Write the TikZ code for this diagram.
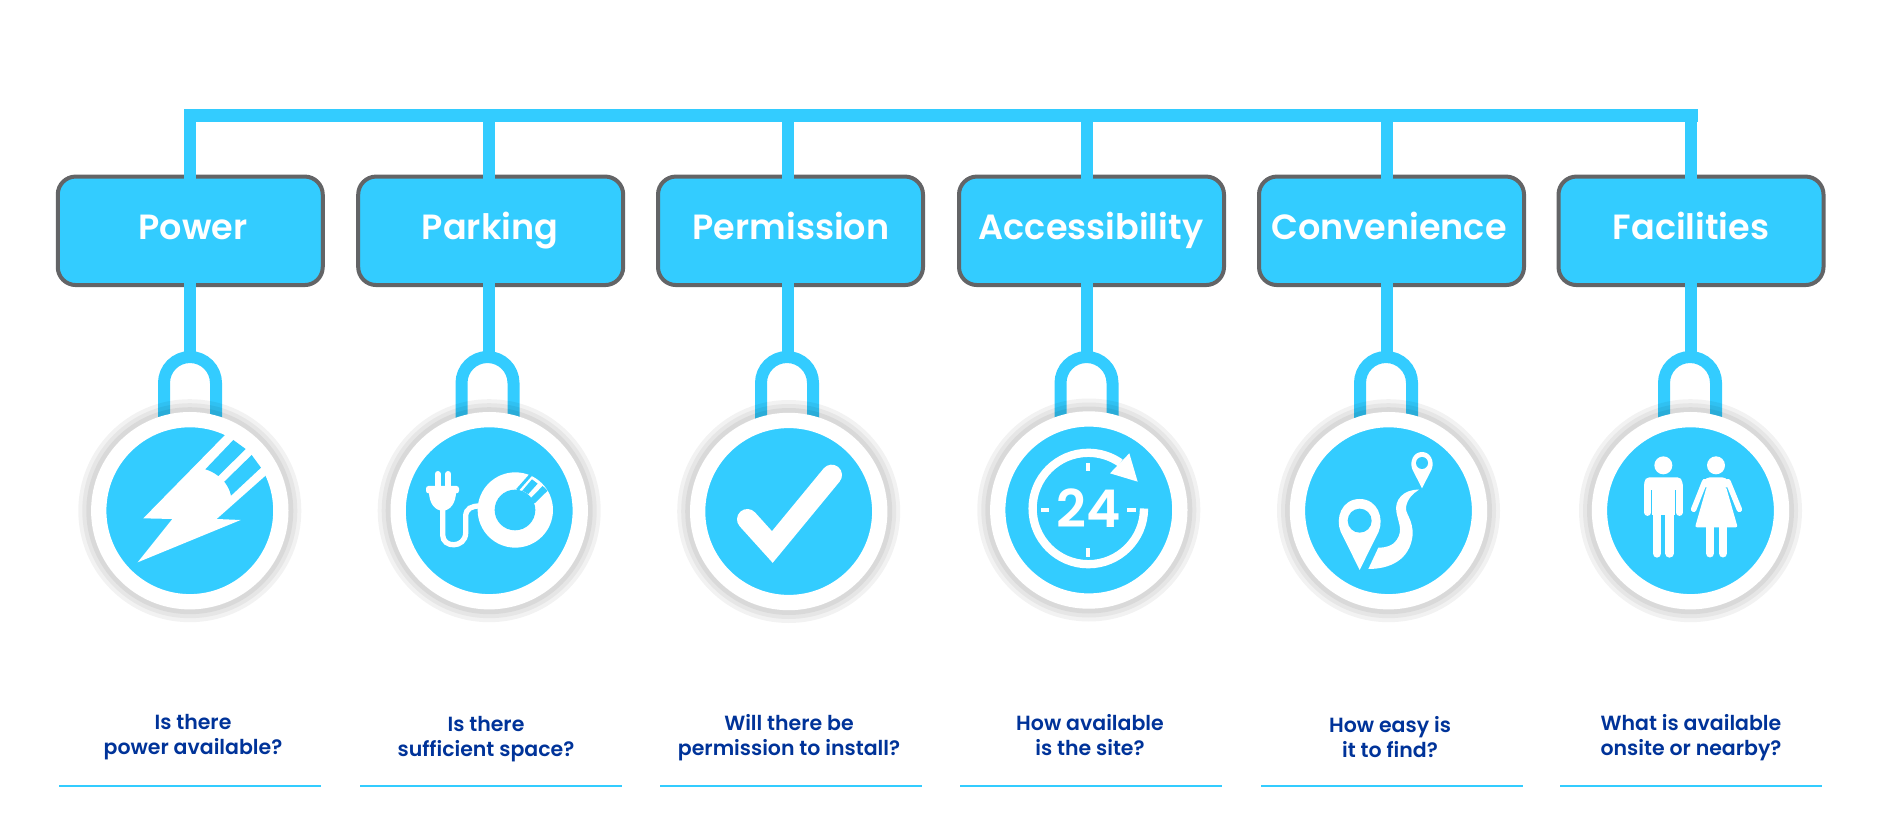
\documentclass[tikz,border=0pt]{standalone}
\usepackage{fontspec}
\setmainfont{Poppins}[BoldFont={Poppins SemiBold}]
\usepackage{xcolor}
\definecolor{skyfill}{HTML}{33CCFF}
\definecolor{boxedge}{HTML}{636466}
\definecolor{navytext}{HTML}{003399}
\tikzset{
    capbox/.style={rectangle, draw=boxedge, fill=skyfill, line width=4pt, rounded corners=18pt, minimum width=265pt, minimum height=108.5pt, inner sep=0pt, outer sep=0pt},
    boxlabel/.style={anchor=base, text=white, inner sep=0pt, font=\fontsize{35}{38}\selectfont\bfseries},
    question/.style={align=center, text=navytext, inner sep=0pt, font=\fontsize{20.5}{25}\selectfont\bfseries},
    rulebar/.style={rectangle, fill=skyfill, minimum width=262pt, minimum height=2pt, inner sep=0pt, outer sep=0pt},
    bus/.style={draw=skyfill, line width=13pt, line cap=rect},
    stem/.style={draw=skyfill, line width=12.3pt},
    shackle/.style={draw=skyfill, line width=12pt},
    haloA/.style={circle, fill=black, fill opacity=.05, minimum size=223pt, inner sep=0pt, outer sep=0pt},
    haloB/.style={circle, fill=black, fill opacity=.05, minimum size=215pt, inner sep=0pt, outer sep=0pt},
    haloC/.style={circle, fill=black, fill opacity=.055, minimum size=207pt, inner sep=0pt, outer sep=0pt},
    disc/.style={circle, draw=white, fill=skyfill, line width=15.3pt, minimum size=182.1pt, inner sep=0pt, outer sep=0pt},
    iconpx/.style={x=0.3333pt, y=-0.3333pt},
    hours/.style={text=white, inner sep=0pt, font=\fontsize{52}{54}\selectfont\bfseries},
}
% #1 = column name, #2 = x of the shackle, #3 = centre of the disc
\newcommand{\pendant}[3]{
    \coordinate (loop#1) at (#2,464);
    \draw[shackle] (loop#1) ++(-26,-69) -- ++(0,37) arc (180:0:26) -- ++(0,-37);
    \node[haloA] (haloA#1) at (#3) {};
    \node[haloB] (haloB#1) at (#3) {};
    \node[haloC] (haloC#1) at (#3) {};
    \node[disc] (disc#1) at (#3) {};
}
\begin{document}
\begin{tikzpicture}[x=1pt, y=1pt]
    \useasboundingbox (0,0) rectangle (1894,815);
    \coordinate (busPower) at (190,699.5);
    \coordinate (busParking) at (489,699.5);
    \coordinate (busPermission) at (788,699.5);
    \coordinate (busAccess) at (1087,699.5);
    \coordinate (busConvenience) at (1387,699.5);
    \coordinate (busFacilities) at (1691,699.5);
    \draw[bus] (busPower) -- (busFacilities);

    % boxes
    \node[capbox] (boxPower) at (190.25,584.2) {};
    \node[capbox] (boxParking) at (490.7,584.2) {};
    \node[capbox] (boxPermission) at (790.5,584.2) {};
    \node[capbox] (boxAccess) at (1091.5,584.2) {};
    \node[capbox] (boxConvenience) at (1391.5,584.2) {};
    \node[capbox] (boxFacilities) at (1691,584.2) {};
    \node[boxlabel] (labelPower) at (193,575.4) {Power};
    \node[boxlabel] (labelParking) at (490,575.4) {Parking};
    \node[boxlabel] (labelPermission) at (791,575.4) {Permission};
    \node[boxlabel] (labelAccess) at (1091,575.4) {Accessibility};
    \node[boxlabel] (labelConvenience) at (1389,575.4) {Convenience};
    \node[boxlabel] (labelFacilities) at (1691,575.4) {Facilities};

    \draw[stem, shorten >=-4pt] (busPower) -- (busPower |- boxPower.north);
    \draw[stem, shorten >=-4pt] (busParking) -- (busParking |- boxParking.north);
    \draw[stem, shorten >=-4pt] (busPermission) -- (busPermission |- boxPermission.north);
    \draw[stem, shorten >=-4pt] (busAccess) -- (busAccess |- boxAccess.north);
    \draw[stem, shorten >=-4pt] (busConvenience) -- (busConvenience |- boxConvenience.north);
    \draw[stem, shorten >=-4pt] (busFacilities) -- (busFacilities |- boxFacilities.north);

    % pendants
    \pendant{Power}{190}{189.8,304.3}
    \pendant{Parking}{487.5}{489.2,304.3}
    \pendant{Permission}{787}{788.7,303.5}
    \pendant{Access}{1086.5}{1088.8,305}
    \pendant{Convenience}{1386}{1388.5,304.3}
    \pendant{Facilities}{1690}{1690.5,304.3}

    \draw[stem, shorten <=-4pt, shorten >=-3pt] (busPower |- boxPower.south) -- (busPower |- loopPower);
    \draw[stem, shorten <=-4pt, shorten >=-3pt] (busParking |- boxParking.south) -- (busParking |- loopParking);
    \draw[stem, shorten <=-4pt, shorten >=-3pt] (busPermission |- boxPermission.south) -- (busPermission |- loopPermission);
    \draw[stem, shorten <=-4pt, shorten >=-3pt] (busAccess |- boxAccess.south) -- (busAccess |- loopAccess);
    \draw[stem, shorten <=-4pt, shorten >=-3pt] (busConvenience |- boxConvenience.south) -- (busConvenience |- loopConvenience);
    \draw[stem, shorten <=-4pt, shorten >=-3pt] (busFacilities |- boxFacilities.south) -- (busFacilities |- loopFacilities);

    % power icon
    \begin{scope}[shift={(100,395)}, iconpx]
        \fill[white] (130,295) -- (385,35) -- (460,70) -- (510,155) -- (350,297) -- (422,300) -- (113,427) -- (217,297) -- cycle;
        \fill[skyfill] (400,60) -- (437,87) -- (355,168) .. controls (342,158) and (330,152) .. (316,148) -- cycle;
        \fill[skyfill] (455,105) -- (483,143) -- (393,227) .. controls (390,210) and (382,197) .. (373,185) -- cycle;
    \end{scope}

    % parking icon
    \begin{scope}[shift={(400,395)}, iconpx]
        \fill[white] (346,270) circle (113);
        \fill[skyfill] (345,270) circle (61);
        \draw[skyfill, line width=3pt] (352,210) -- (392,165);
        \fill[skyfill] (396,178) -- (413,191) -- (385,222) -- (367,212) -- cycle;
        \fill[skyfill] (428,198) -- (443,212) -- (404,250) -- (392,235) -- cycle;
        \draw[white, line width=6pt, line cap=round] (113,162) -- (113,205);
        \draw[white, line width=6pt, line cap=round] (145,162) -- (145,205);
        \fill[white, rounded corners=2.5pt] (78,198) -- (177,198) -- (177,220) -- (78,220) -- cycle;
        \fill[white] (87,215) -- (168,215) .. controls (168,250) and (150,272) .. (128,272) .. controls (105,272) and (87,250) .. (87,215) -- cycle;
        \draw[white, line width=5.3pt] (128,265) -- (128,345) .. controls (128,385) and (195,385) .. (197,340) -- (197,290) .. controls (197,265) and (215,258) .. (240,258);
    \end{scope}

    % permission icon
    \begin{scope}[shift={(700,395)}, iconpx]
        \draw[white, line width=20.7pt, line cap=round] (142,298) -- (217,381) -- (395,165);
    \end{scope}

    % accessibility icon
    \draw[white, line width=8.3pt] (1144,306.5) arc (0:-305:55.7);
    \begin{scope}[shift={(1000,395)}, iconpx]
        \fill[white] (388,100) -- (413,185) -- (330,160) -- cycle;
        \fill[white] (259,128) rectangle (270,153);
        \fill[white] (259,385) rectangle (270,410);
        \fill[white] (122,265) rectangle (148,275);
        \fill[white] (382,265) rectangle (407,275);
    \end{scope}
    \node[hours] (hoursClock) at (1088.7,307) {24};

    % convenience icon
    \begin{scope}[shift={(1300,395)}, iconpx]
        \fill[white] (179,450) -- (122,335) .. controls (105,295) and (125,237) .. (179,237) .. controls (233,237) and (253,295) .. (236,335) -- cycle;
        \fill[skyfill] (179,302) circle (36);
        \fill[white] (366,205) -- (337,148) .. controls (328,125) and (340,96) .. (366,96) .. controls (392,96) and (404,125) .. (395,148) -- cycle;
        \fill[skyfill] (366,129) circle (18);
        \fill[white] (357,209) .. controls (310,208) and (283,240) .. (289,275) .. controls (295,310) and (310,330) .. (290,360) .. controls (278,378) and (258,383) .. (235,383) -- (205,447) .. controls (270,447) and (330,420) .. (338,345) .. controls (340,300) and (315,280) .. (318,262) .. controls (322,235) and (340,220) .. (357,209) -- cycle;
    \end{scope}

    % facilities icon
    \begin{scope}[shift={(1600,395)}, iconpx]
        \fill[white] (190,136) circle (27);
        \fill[white, rounded corners=5pt] (133,210) -- (133,172) -- (247,172) -- (247,210) -- cycle;
        \draw[white, line width=6.5pt, line cap=round] (143,195) -- (143,278);
        \draw[white, line width=6.5pt, line cap=round] (238,195) -- (238,278);
        \fill[white] (157,200) rectangle (225,284);
        \draw[white, line width=8.7pt, line cap=round] (171,275) -- (171,400);
        \draw[white, line width=8.7pt, line cap=round] (209,275) -- (209,400);

        \fill[white] (348,136) circle (27);
        \fill[white, rounded corners=4pt] (303,195) -- (318,172) -- (378,172) -- (393,195) -- (378,205) -- (320,205) -- cycle;
        \fill[white, rounded corners=2pt] (320,200) -- (285,322) -- (413,322) -- (378,200) -- cycle;
        \draw[white, line width=5.5pt, line cap=round] (314,185) -- (281,268);
        \draw[white, line width=5.5pt, line cap=round] (384,185) -- (418,268);
        \draw[white, line width=8.3pt, line cap=round] (330,315) -- (330,400);
        \draw[white, line width=8.3pt, line cap=round] (369,315) -- (369,400);
    \end{scope}

    % questions
    \node[question] (askPower) at (193,78) {Is there\\power available?};
    \node[question] (askParking) at (486,76) {Is there\\sufficient space?};
    \node[question] (askPermission) at (789,77) {Will there be\\permission to install?};
    \node[question] (askAccess) at (1090,80) {How available\\is the site?};
    \node[question] (askConvenience) at (1390,78) {How easy is\\it to find?};
    \node[question] (askFacilities) at (1691,77) {What is available\\onsite or nearby?};

    \node[rulebar] (ruleA) at (190,29) {};
    \node[rulebar] (ruleB) at (490.5,29) {};
    \node[rulebar] (ruleC) at (791,29) {};
    \node[rulebar] (ruleD) at (1091,29) {};
    \node[rulebar] (ruleE) at (1392,29) {};
    \node[rulebar] (ruleF) at (1691,29) {};
\end{tikzpicture}
\end{document}
